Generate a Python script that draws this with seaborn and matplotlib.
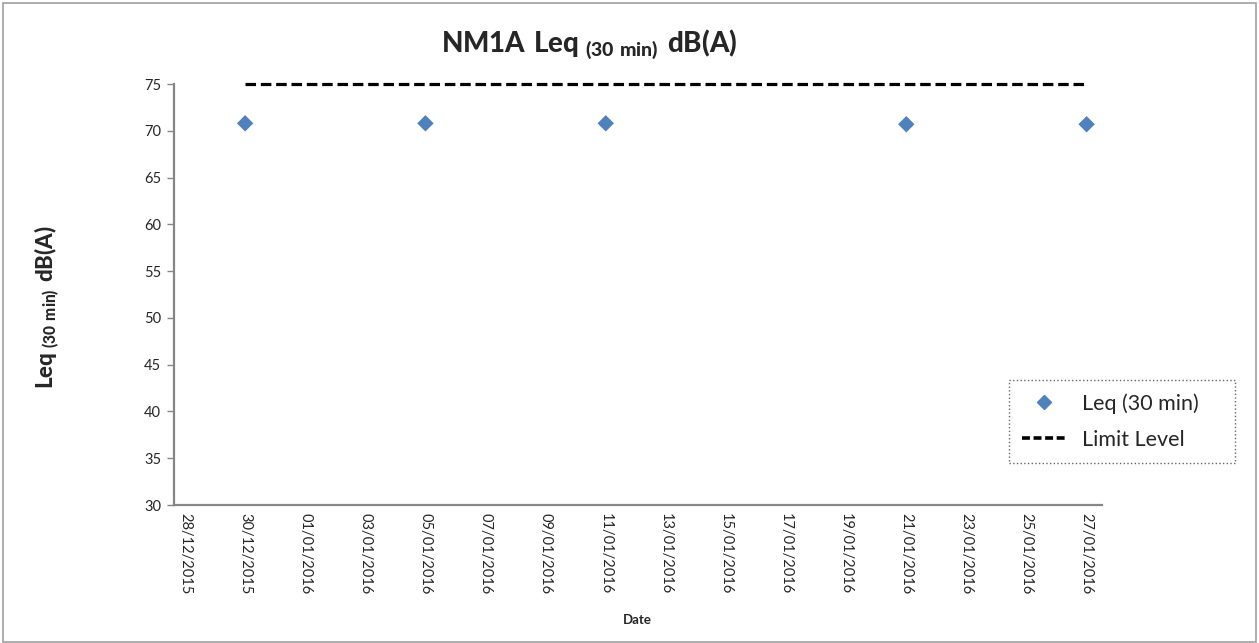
import pandas as pd
import matplotlib
matplotlib.use('Agg')
import matplotlib.pyplot as plt
import matplotlib.dates as mdates
from matplotlib.lines import Line2D
from matplotlib.patches import Rectangle
import seaborn as sns

# readings
dates = ['2015-12-30', '2016-01-05', '2016-01-11', '2016-01-21', '2016-01-27']
leq = [70.8, 70.8, 70.8, 70.7, 70.7]
limit_dates = ['2015-12-30', '2016-01-27']
limit_level = [75, 75]
tick_dates = pd.date_range('2015-12-28', '2016-01-27', freq='2D')

sns.set_style('white')
plt.rcParams['font.family'] = ['Lato', 'DejaVu Sans']
plt.rcParams['mathtext.fontset'] = 'custom'
plt.rcParams['mathtext.rm'] = 'Lato'
plt.rcParams['mathtext.bf'] = 'Lato:black'

data = pd.DataFrame({'Date': pd.to_datetime(dates), 'Leq': leq})
limit = pd.DataFrame({'Date': pd.to_datetime(limit_dates), 'Limit': limit_level})

fig = plt.figure(figsize=(12.59, 6.43), dpi=100)
ax = fig.add_axes([0.138, 0.2146, 0.737, 0.6547])

sns.scatterplot(data=data, x='Date', y='Leq', marker='D', s=70, color='#4F81BD',
                edgecolor='none', ax=ax, zorder=3)
sns.lineplot(data=limit, x='Date', y='Limit', color='black', linewidth=2.3,
             ax=ax, zorder=2)
ax.lines[0].set_dashes((3.3, 1.5))
ax.lines[0].set_clip_on(False)

ax.set_ylim(30, 75)
ax.set_yticks(range(30, 76, 5))
ax.set_xlim(pd.Timestamp('2015-12-28') - pd.Timedelta(hours=9),
            pd.Timestamp('2016-01-27') + pd.Timedelta(hours=12))
ax.set_xticks(tick_dates)
ax.xaxis.set_major_formatter(mdates.DateFormatter('%d/%m/%Y'))
plt.setp(ax.get_xticklabels(), rotation=270, fontsize=10.5, ha='center', va='top')
plt.setp(ax.get_yticklabels(), fontsize=10.5)
ax.tick_params(axis='x', length=0, pad=6)
ax.tick_params(axis='y', length=5, width=1, color='#868686', left=True, pad=4)

sns.despine(ax=ax)
for s in ['left', 'bottom']:
    ax.spines[s].set_color('#868686')
    ax.spines[s].set_linewidth(1.6)

ax.set_xlabel('Date', fontsize=9.5, fontweight='bold', labelpad=14)
ax.set_ylabel(r'$\mathbf{Leq}_{\mathbf{\ (30\ min)}}\ \mathbf{dB(A)}$', fontsize=16)
ax.yaxis.set_label_coords(-0.12, 0.47)
fig.text(0.468, 0.93, r'$\mathbf{NM1A\ Leq}_{\mathbf{\ (30\ min)}}\ \mathbf{dB(A)}$',
         fontsize=20, ha='center', va='center')

handles = [Line2D([], [], marker='D', color='#4F81BD', linestyle='none', markersize=7),
           Line2D([], [], color='black', linewidth=2.6, dashes=(2.2, 1.0))]
leg = fig.legend(handles, ['Leq (30 min)', 'Limit Level'], loc='upper left',
                 bbox_to_anchor=(0.8015, 0.2815, 0.1795, 0.1275), mode='expand',
                 borderaxespad=0, fontsize=15.5, frameon=True, fancybox=False,
                 handlelength=2.0, borderpad=0.6, labelspacing=0.75)
leg.get_frame().set_edgecolor('#404040')
leg.get_frame().set_linestyle(':')
leg.get_frame().set_linewidth(1)

fig.patches.append(Rectangle((0.002, 0.002), 0.996, 0.994, transform=fig.transFigure,
                             fill=False, edgecolor='#a0a0a0', linewidth=1.2))

fig.savefig('out.png', dpi=100)
